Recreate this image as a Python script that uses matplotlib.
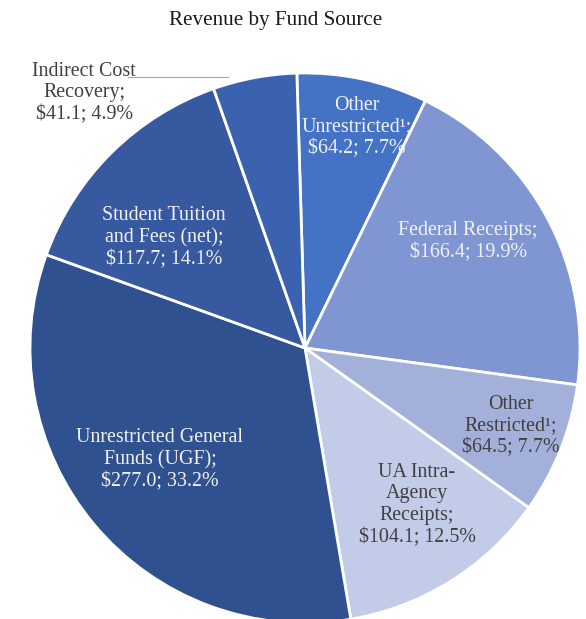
import matplotlib.pyplot as plt

plt.rcParams["font.family"] = ["Liberation Serif", "DejaVu Serif"]

labels = [
    "Other\nUnrestricted¹;\n$64.2; 7.7%",
    "Federal Receipts;\n$166.4; 19.9%",
    "Other\nRestricted¹;\n$64.5; 7.7%",
    "UA Intra-\nAgency\nReceipts;\n$104.1; 12.5%",
    "Unrestricted General\nFunds (UGF);\n$277.0; 33.2%",
    "Student Tuition\nand Fees (net);\n$117.7; 14.1%",
    "Indirect Cost\nRecovery;\n$41.1; 4.9%",
]
values = [64.2, 166.4, 64.5, 104.1, 277.0, 117.7, 41.1]
colors = ["#4472C4", "#7F96D2", "#A3B1DA", "#C2CCE8", "#2F5190", "#36599F", "#3A62AE"]
text_colors = ["#F2F2F2", "#F2F2F2", "#404040", "#404040", "#F2F2F2", "#F2F2F2", "#404040"]

W, H = 586, 619
fig = plt.figure(figsize=(W / 100, H / 100), dpi=100)
# pie centre (305, 348) px, radius 275 px
cx, cy, r = 305, 348, 275
ax = fig.add_axes([(cx - r) / W, 1 - (cy + r) / H, 2 * r / W, 2 * r / H])
wedges, _ = ax.pie(
    values,
    colors=colors,
    startangle=91.7,
    counterclock=False,
    radius=1.0,
    wedgeprops=dict(edgecolor="white", linewidth=2),
)
ax.set_xlim(-1, 1)
ax.set_ylim(-1, 1)
ax.set_aspect("auto")
ax.axis("off")


def px(x, y):
    return ((x - cx) / r, (cy - y) / r)


# label centres in pixel coords
label_pos = [(357, 127), (468, 242), (511, 426), (417, 505), (160, 460), (164, 238), (84, 93)]
for text, pos, tc in zip(labels, label_pos, text_colors):
    ax.text(*px(*pos), text, ha="center", va="center", color=tc,
            fontsize=14.4, linespacing=1.2, clip_on=False)

# leader line for Indirect Cost Recovery
x0, y0 = px(128, 77)
x1, y1 = px(228, 77)
ax.plot([x0, x1], [y0, y1], color="#A6A6A6", lw=0.8, clip_on=False)

fig.text(276 / W, 1 - 20 / H, "Revenue by Fund Source", ha="center", va="center",
         fontsize=15.2, color="#1a1a1a")

fig.savefig("out.png", dpi=100)
